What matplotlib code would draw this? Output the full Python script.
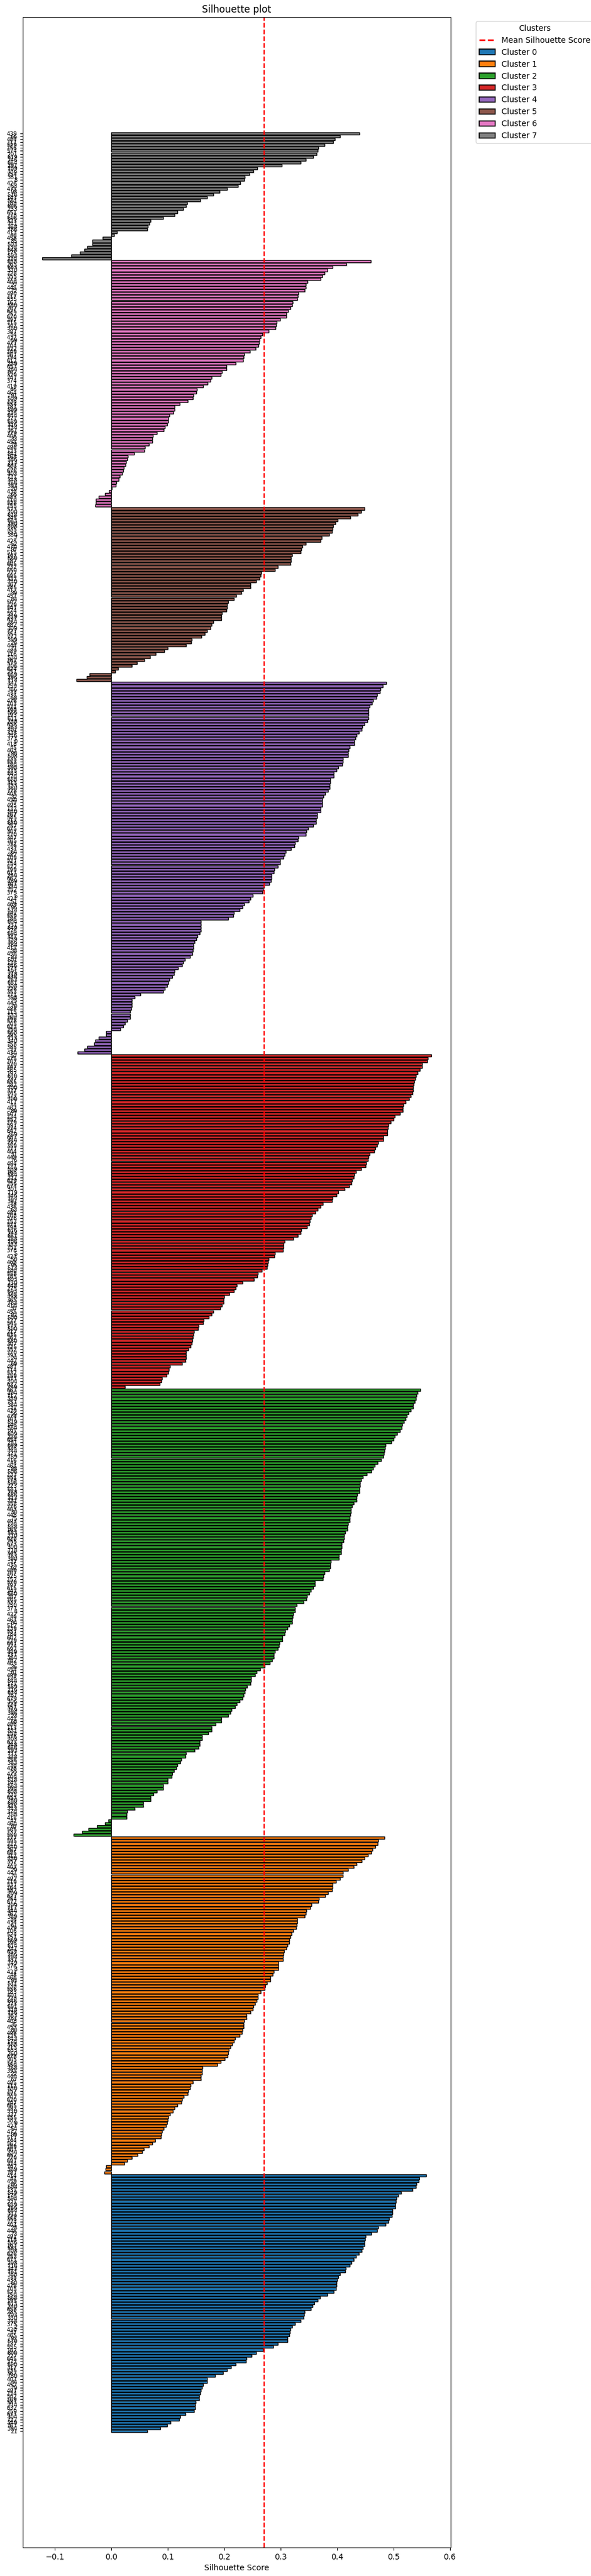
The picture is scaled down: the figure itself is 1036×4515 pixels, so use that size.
import matplotlib
matplotlib.use("Agg")
import matplotlib.pyplot as plt
import matplotlib.patheffects as pe
from matplotlib.lines import Line2D
from matplotlib.patches import Patch

# silhouette values per cluster, read top to bottom (largest first)
cluster_0 = [0.558, 0.546, 0.545, 0.541, 0.540, 0.534, 0.514, 0.509, 0.505, 0.504,
             0.503, 0.503, 0.498, 0.498, 0.497, 0.492, 0.491, 0.486, 0.473, 0.471,
             0.461, 0.451, 0.450, 0.449, 0.449, 0.446, 0.444, 0.439, 0.434, 0.430,
             0.426, 0.423, 0.416, 0.415, 0.405, 0.402, 0.400, 0.399, 0.399, 0.398,
             0.394, 0.383, 0.370, 0.366, 0.360, 0.357, 0.354, 0.343, 0.342, 0.341,
             0.336, 0.326, 0.321, 0.318, 0.317, 0.316, 0.312, 0.312, 0.295, 0.287,
             0.269, 0.257, 0.249, 0.240, 0.239, 0.221, 0.212, 0.205, 0.198, 0.184,
             0.170, 0.170, 0.163, 0.161, 0.159, 0.158, 0.156, 0.156, 0.150, 0.149,
             0.149, 0.147, 0.132, 0.122, 0.120, 0.105, 0.099, 0.087, 0.064]

cluster_1 = [0.484, 0.473, 0.472, 0.468, 0.463, 0.461, 0.455, 0.449, 0.444, 0.435,
             0.430, 0.420, 0.411, 0.410, 0.405, 0.398, 0.392, 0.392, 0.391, 0.384,
             0.379, 0.368, 0.367, 0.355, 0.353, 0.346, 0.345, 0.343, 0.330, 0.330,
             0.329, 0.328, 0.323, 0.320, 0.318, 0.316, 0.315, 0.312, 0.310, 0.306,
             0.305, 0.304, 0.304, 0.296, 0.296, 0.296, 0.288, 0.286, 0.282, 0.282,
             0.276, 0.273, 0.272, 0.265, 0.260, 0.260, 0.258, 0.255, 0.252, 0.251,
             0.247, 0.240, 0.240, 0.236, 0.235, 0.235, 0.233, 0.232, 0.228, 0.220,
             0.217, 0.214, 0.211, 0.208, 0.207, 0.206,
             0.201, 0.194, 0.188, 0.162, 0.161, 0.161, 0.159, 0.159, 0.145, 0.141,
             0.140, 0.137, 0.136, 0.129, 0.126, 0.124, 0.117, 0.112, 0.109, 0.104,
             0.101, 0.100, 0.099, 0.097, 0.093, 0.090, 0.089, 0.088, 0.078, 0.073,
             0.067, 0.058, 0.055, 0.047, 0.037, 0.028, 0.023, -0.009, -0.010, -0.012]

cluster_2 = [0.548, 0.543, 0.541, 0.540, 0.538, 0.535, 0.535, 0.531, 0.527, 0.524,
             0.522, 0.519, 0.516, 0.515, 0.512, 0.507, 0.502, 0.500, 0.496, 0.486,
             0.485, 0.484, 0.483, 0.482, 0.478, 0.472, 0.467, 0.464, 0.461, 0.453,
             0.446, 0.443, 0.441, 0.441, 0.440, 0.440, 0.436, 0.435, 0.435, 0.430,
             0.427, 0.425, 0.425, 0.424, 0.423, 0.423, 0.420, 0.419, 0.419, 0.415,
             0.413, 0.413, 0.412, 0.408, 0.408, 0.407, 0.407, 0.403, 0.403, 0.389,
             0.388, 0.388, 0.386, 0.378, 0.376, 0.375, 0.361, 0.361, 0.358, 0.354,
             0.351, 0.347, 0.346, 0.341, 0.329, 0.326, 0.326, 0.323, 0.322, 0.321,
             0.321, 0.316, 0.312, 0.308, 0.307, 0.303, 0.303, 0.298, 0.297, 0.295,
             0.290, 0.288, 0.288, 0.285, 0.281, 0.272, 0.264,
             0.258, 0.255, 0.248, 0.248, 0.247, 0.241, 0.238, 0.237, 0.235, 0.233,
             0.228, 0.223, 0.220, 0.213, 0.211, 0.207, 0.195, 0.195, 0.185, 0.178,
             0.178, 0.172, 0.161, 0.161, 0.157, 0.157, 0.155, 0.148, 0.133, 0.132,
             0.124, 0.122, 0.117, 0.115, 0.111, 0.108, 0.107, 0.100, 0.100, 0.092,
             0.092, 0.081, 0.075, 0.070, 0.070, 0.057, 0.057, 0.042, 0.029, 0.027,
             0.027, -0.005, -0.011, -0.025, -0.040, -0.051, -0.066]

cluster_3 = [0.567, 0.561, 0.560, 0.551, 0.551, 0.547, 0.543, 0.540, 0.539, 0.537,
             0.536, 0.535, 0.535, 0.534, 0.531, 0.528, 0.522, 0.518, 0.517, 0.517,
             0.512, 0.502, 0.500, 0.495, 0.491, 0.490, 0.489, 0.489, 0.482, 0.482,
             0.473, 0.471, 0.468, 0.466, 0.458, 0.456, 0.455, 0.452, 0.451, 0.443,
             0.434, 0.431, 0.430, 0.427, 0.426, 0.422, 0.414, 0.402, 0.399, 0.392,
             0.391, 0.375, 0.371, 0.366, 0.362, 0.356, 0.354, 0.352, 0.351, 0.347,
             0.337, 0.336, 0.331, 0.323, 0.307, 0.305, 0.305, 0.304, 0.290, 0.289,
             0.279, 0.278, 0.277, 0.276, 0.267, 0.260, 0.259, 0.253, 0.233, 0.223,
             0.221, 0.217, 0.209, 0.200, 0.199, 0.199, 0.196, 0.193, 0.181, 0.178,
             0.173, 0.164, 0.163, 0.155, 0.154, 0.147, 0.146, 0.145, 0.144, 0.143,
             0.141, 0.137, 0.133, 0.133, 0.133, 0.132, 0.126, 0.104, 0.102, 0.101,
             0.098, 0.090, 0.089, 0.086, 0.024]

cluster_4 = [0.487, 0.481, 0.477, 0.476, 0.471, 0.470, 0.464, 0.462, 0.458, 0.456,
             0.456, 0.456, 0.456, 0.454, 0.449, 0.445, 0.444, 0.439, 0.435, 0.433,
             0.431, 0.431, 0.423, 0.421, 0.420, 0.420, 0.411, 0.410, 0.409, 0.402,
             0.399, 0.394, 0.394, 0.388, 0.388, 0.387, 0.387, 0.384, 0.379, 0.376,
             0.374, 0.374, 0.374, 0.371, 0.371, 0.365, 0.365, 0.363, 0.363, 0.358,
             0.349, 0.346, 0.345, 0.332, 0.331, 0.326, 0.325, 0.319, 0.309, 0.307,
             0.305, 0.299, 0.299, 0.295, 0.289, 0.288, 0.284, 0.284, 0.283, 0.280,
             0.271, 0.269, 0.268, 0.251, 0.247,
             0.244, 0.236, 0.233, 0.228, 0.217, 0.216, 0.207, 0.159, 0.159, 0.159,
             0.159, 0.157, 0.153, 0.151, 0.148, 0.146, 0.146, 0.145, 0.144, 0.140,
             0.131, 0.128, 0.126, 0.118, 0.112, 0.111, 0.108, 0.103, 0.101, 0.099,
             0.095, 0.092, 0.052, 0.042, 0.037, 0.037, 0.037, 0.036, 0.034, 0.034,
             0.034, 0.029, 0.024, 0.021, 0.016, -0.009, -0.009, -0.022, -0.028, -0.030,
             -0.042, -0.047, -0.059]

cluster_5 = [0.449, 0.443, 0.437,
             0.424, 0.401, 0.397, 0.393, 0.392, 0.391, 0.386, 0.373, 0.371, 0.345,
             0.339, 0.337, 0.336, 0.321, 0.319, 0.319, 0.318, 0.295, 0.290, 0.266,
             0.265, 0.263, 0.257, 0.247, 0.247, 0.234, 0.231, 0.222, 0.217, 0.207,
             0.205, 0.205, 0.204, 0.196, 0.195, 0.195, 0.181, 0.178, 0.176, 0.170,
             0.166, 0.160, 0.143, 0.142, 0.133, 0.100, 0.094, 0.079, 0.069, 0.059,
             0.046, 0.037, 0.012, 0.007, -0.038, -0.043, -0.061]

cluster_6 = [0.460, 0.417, 0.392, 0.383, 0.378, 0.374, 0.371, 0.348, 0.345, 0.345,
             0.343, 0.332, 0.331, 0.330, 0.322, 0.321, 0.318, 0.313, 0.310, 0.310,
             0.299, 0.293, 0.292, 0.291, 0.279, 0.268, 0.265, 0.263, 0.262, 0.261,
             0.256, 0.246, 0.236, 0.235, 0.234, 0.221, 0.204, 0.204, 0.196, 0.194,
             0.178, 0.176, 0.171, 0.163, 0.152, 0.151, 0.146, 0.145, 0.136, 0.121,
             0.112, 0.112, 0.110, 0.103, 0.101, 0.101, 0.099, 0.095, 0.093, 0.081,
             0.074, 0.073, 0.073, 0.067, 0.060, 0.059, 0.041, 0.030, 0.029, 0.026,
             0.025, 0.022, 0.021, 0.019, 0.015, 0.013, 0.009, 0.008, 0.001, -0.004,
             -0.011, -0.022, -0.027, -0.027, -0.028]

cluster_7 = [0.440, 0.405, 0.396, 0.393, 0.378, 0.367, 0.366, 0.364, 0.358, 0.345,
             0.336, 0.302, 0.259, 0.252, 0.245, 0.237, 0.236, 0.229, 0.225, 0.205,
             0.192, 0.181, 0.170, 0.158, 0.135, 0.133, 0.128, 0.117, 0.112, 0.092,
             0.070, 0.068, 0.065, 0.064, 0.010, 0.005, -0.015, -0.033, -0.033, -0.042,
             -0.047, -0.055, -0.071, -0.122]

clusters = [cluster_0, cluster_1, cluster_2, cluster_3,
            cluster_4, cluster_5, cluster_6, cluster_7]
cluster_names = [f"Cluster {k}" for k in range(len(clusters))]
mean_score = 0.271


def main():
    """Draw the silhouette bars, cluster by cluster, bottom to top."""

    colors = plt.cm.tab10.colors
    values = []
    bar_colors = []
    for k, vals in enumerate(clusters):
        for v in sorted(vals):
            values.append(v)
            bar_colors.append(colors[k])

    n = len(values)
    # sample ids shown as tick labels (unreadable in the source, overlapping)
    sample_ids = [str((21 + i * 373) % n) for i in range(n)]

    fig = plt.figure(figsize=(10.36, 45.15), dpi=100)
    ax = fig.add_axes([0.0386, 0.0111, 0.7239, 0.9822])

    shadow = [pe.SimplePatchShadow(offset=(1, -1), shadow_rgbFace="gray",
                                   alpha=0.35), pe.Normal()]
    ax.barh(range(n), values, color=bar_colors, edgecolor="black",
            linewidth=1.0, path_effects=shadow)
    ax.axvline(mean_score, color="red", linestyle="--", linewidth=1.6)

    ax.set_yticks(range(n))
    ax.set_yticklabels(sample_ids, fontsize=7)
    ax.set_xlabel("Silhouette Score")
    ax.set_title("Silhouette plot")

    handles = [Line2D([0], [0], color="red", linestyle="--", linewidth=2,
                      label="Mean Silhouette Score")]
    for k, name in enumerate(cluster_names):
        handles.append(Patch(facecolor=colors[k], edgecolor="black",
                             linewidth=1.2, label=name))
    ax.legend(handles=handles, title="Clusters", bbox_to_anchor=(1.05, 1),
              loc="upper left")

    fig.savefig("out.png", dpi=100)


if __name__ == "__main__":
    main()
